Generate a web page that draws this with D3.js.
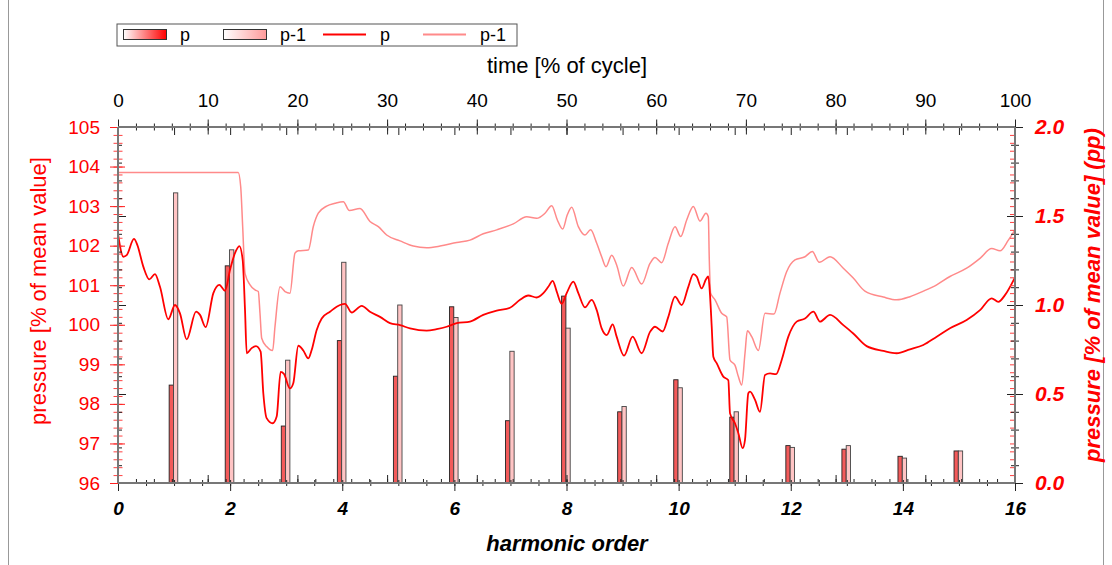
<!DOCTYPE html>
<html>
<head>
<meta charset="utf-8">
<script src="https://cdn.jsdelivr.net/npm/d3@7"></script>
<style>
  body { margin: 0; background: #fff; }
  svg { display: block; font-family: "Liberation Sans", Arial, sans-serif; }
</style>
</head>
<body>
<div id="chart"></div>
<script>
// harmonic spectrum (right axis, pp)
const harmonics = [1, 2, 3, 4, 5, 6, 7, 8, 9, 10, 11, 12, 13, 14, 15];
const pBars = [0.55, 1.22, 0.32, 0.80, 0.60, 0.99, 0.35, 1.05, 0.40, 0.58, 0.37, 0.21, 0.19, 0.15, 0.18];
const pm1Bars = [1.63, 1.31, 0.69, 1.24, 1.00, 0.93, 0.74, 0.87, 0.43, 0.535, 0.40, 0.20, 0.21, 0.14, 0.18];

// tick labels
const leftTicks = [96, 97, 98, 99, 100, 101, 102, 103, 104, 105];
const rightTicks = [0.0, 0.5, 1.0, 1.5, 2.0];
const timeTicks = [0, 10, 20, 30, 40, 50, 60, 70, 80, 90, 100];
const orderTicks = [0, 2, 4, 6, 8, 10, 12, 14, 16];

// pressure over one cycle: [time %, pressure % of mean]
const pCurve = [
  [0, 102.3], [0.6, 101.72], [0.97, 101.76], [1.78, 102.17], [2.15, 102.02], [2.82, 101.47],
  [3.49, 101.15], [4.12, 101.28], [4.68, 100.96], [5.61, 100.14], [6.35, 100.5], [6.91, 100.29],
  [7.66, 99.63], [8.7, 100.33], [9.14, 100.25], [9.77, 99.94], [10.63, 100.8], [11.3, 101.01],
  [11.93, 100.86], [12.49, 101.39], [13.04, 101.81], [13.53, 101.99], [13.9, 101.64], [14.16, 100.37],
  [14.35, 99.28], [14.9, 99.41], [15.38, 99.46], [15.9, 99.32], [16.2, 98.27], [16.57, 97.64],
  [17.24, 97.51], [17.69, 97.68], [18.13, 98.81], [18.5, 98.76], [19.17, 98.39], [19.54, 98.52],
  [20.1, 99.47], [20.66, 99.35], [21.22, 99.15], [21.59, 99.36], [22.15, 99.87], [22.71, 100.16],
  [23.63, 100.33], [24.75, 100.5], [25.31, 100.53], [26.05, 100.31], [27.17, 100.48], [28.09, 100.33],
  [29.21, 100.2], [30.32, 100.04], [31.44, 99.99], [32.55, 99.91], [34.41, 99.85], [35.53, 99.89],
  [36.64, 99.95], [37.76, 100.04], [39.24, 100.08], [40.72, 100.25], [42.22, 100.36], [43.7, 100.43],
  [44.82, 100.63], [45.74, 100.74], [46.67, 100.69], [47.42, 100.8], [47.97, 100.96], [48.46, 101.11],
  [48.91, 100.84], [49.46, 100.53], [50.02, 100.8], [50.76, 101.09], [51.32, 100.8], [52.06, 100.44],
  [52.81, 100.63], [53.37, 100.37], [53.92, 99.91], [54.48, 99.74], [55.15, 100.01], [55.59, 99.7],
  [56.41, 99.22], [57.37, 99.7], [58.38, 99.28], [59.31, 99.82], [59.87, 99.95], [60.72, 99.83],
  [61.35, 100.2], [62.1, 100.71], [62.84, 100.5], [63.58, 100.96], [64.14, 101.28], [64.51, 101.22],
  [65.07, 100.92], [65.55, 101.15], [65.81, 101.22], [66.0, 100.75], [66.19, 99.95], [66.37, 99.19],
  [66.74, 99.03], [67.48, 98.69], [68.04, 98.6], [68.23, 97.76], [68.78, 97.51], [69.16, 97.26],
  [69.64, 96.88], [69.9, 97.09], [70.27, 98.27], [70.46, 98.31], [71.02, 98.1], [71.57, 97.8],
  [72.13, 98.73], [72.69, 98.77], [73.36, 98.75], [73.99, 99.11], [74.73, 99.7], [75.66, 100.08],
  [76.59, 100.16], [77.52, 100.33], [78.26, 100.08], [79.38, 100.25], [80.86, 99.99], [81.97, 99.78],
  [83.46, 99.46], [85.32, 99.34], [86.81, 99.28], [88.29, 99.38], [89.78, 99.49], [91.27, 99.7],
  [92.75, 99.91], [94.61, 100.12], [96.1, 100.37], [97.4, 100.67], [98.14, 100.58], [98.88, 100.75],
  [100, 101.2]
];

const pm1Curve = [
  [0, 103.85], [13.4, 103.85], [13.68, 103.49], [13.9, 102.48], [14.16, 101.3], [14.72, 101.01],
  [15.27, 100.88], [15.64, 100.84], [15.83, 100.29], [16.02, 99.66], [16.57, 99.45], [17.24, 99.35],
  [17.5, 99.95], [18.06, 100.96], [18.62, 100.84], [19.17, 100.8], [19.73, 101.81], [20.1, 101.87],
  [21.22, 101.89], [21.77, 102.48], [22.33, 102.82], [23.26, 103.0], [24.19, 103.07], [25.12, 103.11],
  [25.79, 102.89], [26.98, 102.94], [28.09, 102.61], [29.02, 102.48], [29.95, 102.27], [31.44, 102.12],
  [32.92, 101.99], [34.41, 101.95], [35.9, 101.99], [37.76, 102.08], [39.24, 102.14], [40.72, 102.3],
  [42.22, 102.4], [44.07, 102.55], [45.56, 102.73], [46.67, 102.69], [47.6, 102.82], [48.35, 103.01],
  [48.98, 102.65], [49.57, 102.42], [50.09, 102.78], [50.58, 102.97], [51.32, 102.48], [52.06, 102.27],
  [52.69, 102.4], [53.37, 102.06], [53.92, 101.72], [54.4, 101.47], [55.04, 101.76], [55.59, 101.51],
  [56.33, 100.98], [57.27, 101.45], [58.38, 101.03], [59.31, 101.55], [59.87, 101.7], [60.61, 101.57],
  [61.35, 102.06], [62.1, 102.48], [62.73, 102.23], [63.4, 102.65], [64.14, 102.99], [64.88, 102.62],
  [65.55, 102.82], [65.81, 102.73], [65.92, 101.64], [66.07, 100.8], [66.56, 100.63], [67.3, 100.29],
  [67.86, 100.2], [68.23, 99.11], [68.78, 98.98], [69.16, 98.69], [69.53, 98.48], [69.9, 99.28],
  [70.16, 99.85], [70.65, 99.7], [71.39, 99.35], [72.13, 100.29], [73.13, 100.27], [73.8, 100.8],
  [74.54, 101.34], [75.47, 101.64], [76.59, 101.72], [77.4, 101.85], [78.18, 101.58], [79.38, 101.72],
  [80.86, 101.43], [81.97, 101.18], [83.27, 100.85], [85.32, 100.7], [86.81, 100.63], [88.29, 100.71],
  [89.78, 100.85], [91.27, 101.01], [92.75, 101.22], [94.61, 101.43], [96.1, 101.68], [97.4, 101.93],
  [98.33, 101.87], [99.26, 102.14], [100, 102.4]
];

const W = 1112, H = 565;
const plot = { l: 118, r: 1015, t: 127, b: 483 };

const svg = d3.select("#chart").append("svg")
  .attr("width", W)
  .attr("height", H);

// outer frame
svg.append("line").attr("x1", 8.5).attr("x2", 8.5).attr("y1", 0).attr("y2", H).attr("stroke", "#999");
svg.append("line").attr("x1", 1103.5).attr("x2", 1103.5).attr("y1", 0).attr("y2", H).attr("stroke", "#999");

const xH = d3.scaleLinear().domain([0, 16]).range([plot.l, plot.r]);
const xT = d3.scaleLinear().domain([0, 100]).range([plot.l, plot.r]);
const yL = d3.scaleLinear().domain([96, 105]).range([plot.b, plot.t]);
const yR = d3.scaleLinear().domain([0, 2]).range([plot.b, plot.t]);

const stepTicks = (a, b, s) => d3.range(Math.round((b - a) / s) + 1).map(i => +(a + i * s).toFixed(3));

// tick-only helper (no labels, no domain)
function ticks(g, axis, attrs, color) {
  g.call(axis.tickFormat(""));
  g.select(".domain").remove();
  g.selectAll(".tick line").attr("stroke", color).attr("stroke-width", 1).attr(attrs[0], attrs[1]);
  g.selectAll(".tick text").remove();
}

// ---------- bars ----------
const bw = 4.3;
const bars = svg.append("g");
bars.selectAll("rect.p").data(harmonics).enter().append("rect")
  .attr("x", (d) => xH(d) - bw - 0.6)
  .attr("y", (d, i) => yR(pBars[i]))
  .attr("width", bw)
  .attr("height", (d, i) => yR(0) - yR(pBars[i]))
  .style("fill", "#f35a5a")
  .style("stroke", "#222")
  .style("stroke-width", 0.9);
bars.selectAll("rect.pm").data(harmonics).enter().append("rect")
  .attr("x", (d) => xH(d) - 0.6)
  .attr("y", (d, i) => yR(pm1Bars[i]))
  .attr("width", bw)
  .attr("height", (d, i) => yR(0) - yR(pm1Bars[i]))
  .style("fill", "#ffc4c4")
  .style("stroke", "#444")
  .style("stroke-width", 0.9);

// ---------- lines ----------
const line = d3.line()
  .x((d) => xT(d[0]))
  .y((d) => yL(d[1]))
  .curve(d3.curveMonotoneX);

svg.append("path").datum(pm1Curve)
  .attr("d", line)
  .style("fill", "none")
  .style("stroke", "#ff8a8a")
  .style("stroke-width", 1.5);
svg.append("path").datum(pCurve)
  .attr("d", line)
  .style("fill", "none")
  .style("stroke", "#ff0000")
  .style("stroke-width", 1.8);

// ---------- left axis (red) + mirrored right ticks ----------
ticks(svg.append("g").attr("transform", `translate(${plot.l},0)`),
  d3.axisLeft(yL).tickValues(stepTicks(96, 105, 0.2)).tickSize(4.5), ["x1", 4.5], "#ff4040");
ticks(svg.append("g").attr("transform", `translate(${plot.l},0)`),
  d3.axisRight(yR).tickValues(stepTicks(0, 2, 0.1)).tickSize(4), ["x1", 0], "#222");
ticks(svg.append("g").attr("transform", `translate(${plot.l},0)`),
  d3.axisRight(yR).tickValues(rightTicks).tickSize(8), ["x1", 0], "#222");

const gLeft = svg.append("g").attr("transform", `translate(${plot.l},0)`)
  .call(d3.axisLeft(yL).tickValues(leftTicks).tickSize(8).tickPadding(10));
gLeft.select(".domain").remove();
gLeft.selectAll(".tick line").attr("stroke", "#ff2020").attr("x1", 7);
gLeft.selectAll(".tick text").style("fill", "#ff0000").style("font-size", "19px").style("font-family", "Liberation Sans, Arial");

// ---------- right axis (black) + mirrored left ticks ----------
ticks(svg.append("g").attr("transform", `translate(${plot.r},0)`),
  d3.axisLeft(yL).tickValues(stepTicks(96, 105, 0.2)).tickSize(5), ["x1", 0], "#ff4040");
ticks(svg.append("g").attr("transform", `translate(${plot.r},0)`),
  d3.axisRight(yR).tickValues(stepTicks(0, 2, 0.1)).tickSize(4), ["x1", -4], "#222");

const gRight = svg.append("g").attr("transform", `translate(${plot.r},0)`)
  .call(d3.axisRight(yR).tickValues(rightTicks).tickSize(8).tickPadding(12).tickFormat(d3.format(".1f")));
gRight.select(".domain").remove();
gRight.selectAll(".tick line").attr("stroke", "#222").attr("x1", -8);
gRight.selectAll(".tick text").style("fill", "#ff0000").style("font-size", "21px")
  .style("font-weight", "bold").style("font-style", "italic").style("font-family", "Liberation Sans, Arial");

// ---------- top axis (time) + mirrored harmonic ticks ----------
ticks(svg.append("g").attr("transform", `translate(0,${plot.t})`),
  d3.axisTop(xT).tickValues(stepTicks(0, 100, 2)).tickSize(3.5), ["y1", 3.5], "#222");
ticks(svg.append("g").attr("transform", `translate(0,${plot.t})`),
  d3.axisBottom(xH).tickValues(stepTicks(0, 16, 1)).tickSize(8), ["y1", 0], "#222");

const gTop = svg.append("g").attr("transform", `translate(0,${plot.t})`)
  .call(d3.axisTop(xT).tickValues(timeTicks).tickSize(7.5).tickPadding(12.5));
gTop.select(".domain").remove();
gTop.selectAll(".tick line").attr("stroke", "#222").attr("y1", 7.5);
gTop.selectAll(".tick text").style("fill", "#000").style("font-size", "19px").style("font-family", "Liberation Sans, Arial");

// ---------- bottom axis (harmonic order) + mirrored time ticks ----------
ticks(svg.append("g").attr("transform", `translate(0,${plot.b})`),
  d3.axisTop(xT).tickValues(stepTicks(0, 100, 2)).tickSize(4), ["y1", 0], "#222");
ticks(svg.append("g").attr("transform", `translate(0,${plot.b})`),
  d3.axisTop(xT).tickValues(timeTicks).tickSize(8), ["y1", 0], "#222");
ticks(svg.append("g").attr("transform", `translate(0,${plot.b})`),
  d3.axisBottom(xH).tickValues(stepTicks(0, 16, 0.5)).tickSize(3), ["y1", -3], "#222");

const gBottom = svg.append("g").attr("transform", `translate(0,${plot.b})`)
  .call(d3.axisBottom(xH).tickValues(orderTicks).tickSize(8).tickPadding(10.5));
gBottom.select(".domain").remove();
gBottom.selectAll(".tick line").attr("stroke", "#222");
gBottom.selectAll(".tick text").style("fill", "#000").style("font-size", "19px")
  .style("font-weight", "bold").style("font-style", "italic").style("font-family", "Liberation Sans, Arial");

// axis frame lines (grey, drawn last)
const frame = svg.append("g").style("stroke", "#777").style("stroke-width", 2);
frame.append("line").attr("x1", plot.l).attr("x2", plot.r).attr("y1", plot.t).attr("y2", plot.t);
frame.append("line").attr("x1", plot.l).attr("x2", plot.r).attr("y1", plot.b).attr("y2", plot.b);
frame.append("line").attr("x1", plot.l).attr("x2", plot.l).attr("y1", plot.t).attr("y2", plot.b);
frame.append("line").attr("x1", plot.r).attr("x2", plot.r).attr("y1", plot.t).attr("y2", plot.b);

// ---------- titles ----------
svg.append("text")
  .attr("x", 567).attr("y", 73)
  .attr("text-anchor", "middle")
  .style("font-size", "22px")
  .text("time [% of cycle]");

svg.append("text")
  .attr("x", 567).attr("y", 551)
  .attr("text-anchor", "middle")
  .style("font-size", "22px").style("font-weight", "bold").style("font-style", "italic")
  .text("harmonic order");

svg.append("text")
  .attr("transform", "translate(46,291) rotate(-90)")
  .attr("text-anchor", "middle")
  .style("font-size", "22px").style("fill", "#ff0000")
  .text("pressure [% of mean value]");

svg.append("text")
  .attr("transform", "translate(1100,295) rotate(-90)")
  .attr("text-anchor", "middle")
  .style("font-size", "22px").style("fill", "#ff0000")
  .style("font-weight", "bold").style("font-style", "italic")
  .text("pressure [% of mean value] (pp)");

// ---------- legend ----------
const defs = svg.append("defs");
const grad = (id, c) => {
  const g = defs.append("linearGradient").attr("id", id);
  g.append("stop").attr("offset", "0%").attr("stop-color", "#fff");
  g.append("stop").attr("offset", "100%").attr("stop-color", c);
};
grad("gp", "#ff0000");
grad("gpm", "#ff9a9a");

const legendItems = [
  { label: "p", kind: "bar", fill: "url(#gp)" },
  { label: "p-1", kind: "bar", fill: "url(#gpm)" },
  { label: "p", kind: "line", color: "#ff0000" },
  { label: "p-1", kind: "line", color: "#ff8a8a" }
];
const legend = svg.append("g").attr("transform", "translate(117,24)");
legend.append("rect").attr("width", 400).attr("height", 22)
  .style("fill", "#fff").style("stroke", "#555");
const li = legend.selectAll("g.item").data(legendItems).enter().append("g")
  .attr("transform", (d, i) => `translate(${6 + i * 100},0)`);
li.filter((d) => d.kind === "bar").append("rect")
  .attr("x", 0.5).attr("y", 5.5).attr("width", 43).attr("height", 10)
  .style("fill", (d) => d.fill).style("stroke", "#333");
li.filter((d) => d.kind === "line").append("line")
  .attr("x1", 0).attr("x2", 43).attr("y1", 10.5).attr("y2", 10.5)
  .style("stroke", (d) => d.color).style("stroke-width", 2);
li.append("text")
  .attr("x", 57).attr("y", 17)
  .style("font-size", "18px")
  .text((d) => d.label);
</script>
</body>
</html>
